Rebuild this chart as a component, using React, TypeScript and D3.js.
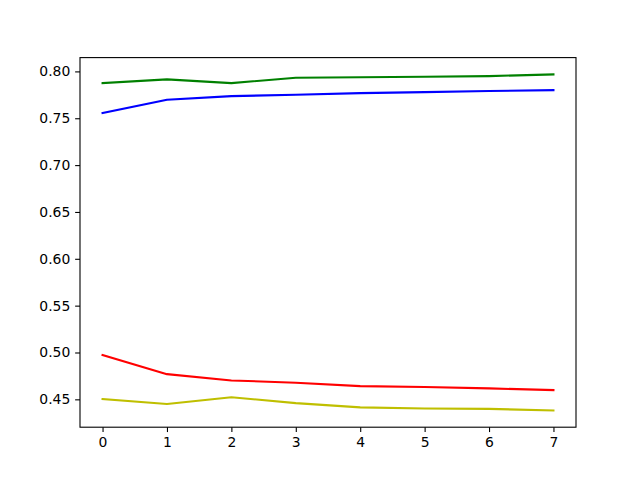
import React, { useRef, useEffect } from "react";
import * as d3 from "d3";

const steps = [0, 1, 2, 3, 4, 5, 6, 7];
const greenSeries = [0.7875, 0.7915, 0.7875, 0.7933, 0.7937, 0.7943, 0.795, 0.7968];
const blueSeries = [0.7555, 0.7698, 0.7736, 0.7751, 0.7768, 0.7779, 0.779, 0.78];
const redSeries = [0.4972, 0.4769, 0.4702, 0.4678, 0.4641, 0.4631, 0.4617, 0.4599];
const yellowSeries = [0.4503, 0.445, 0.4522, 0.446, 0.4414, 0.4402, 0.4398, 0.4382];
const yTicks = [0.45, 0.5, 0.55, 0.6, 0.65, 0.7, 0.75, 0.8];

const series = [
  { values: greenSeries, color: "#008000" },
  { values: blueSeries, color: "#0000ff" },
  { values: redSeries, color: "#ff0000" },
  { values: yellowSeries, color: "#bfbf00" },
];

const App: React.FC = () => {
  const svgRef = useRef<SVGSVGElement | null>(null);

  const width = 640;
  const height = 480;
  const margin = { top: 57.6, right: 64, bottom: 52.8, left: 80 };

  useEffect(() => {
    const svg = d3.select(svgRef.current);
    svg.selectAll("*").remove();

    const all = series.flatMap((s) => s.values);
    const lo = d3.min(all)!;
    const hi = d3.max(all)!;
    const pad = (hi - lo) * 0.05;

    // x: matplotlib style 5% margin
    const x = d3
      .scaleLinear()
      .domain([-0.35, 7.35])
      .range([margin.left, width - margin.right]);
    const y = d3
      .scaleLinear()
      .domain([lo - pad, hi + pad])
      .range([height - margin.bottom, margin.top]);

    svg.append("rect").attr("width", width).attr("height", height).attr("fill", "#fff");

    const line = d3
      .line<number>()
      .x((_, i) => x(steps[i]))
      .y((d) => y(d));

    series.forEach((s) => {
      svg
        .append("path")
        .datum(s.values)
        .attr("fill", "none")
        .attr("stroke", s.color)
        .attr("stroke-width", 2.08)
        .attr("stroke-linejoin", "round")
        .attr("stroke-linecap", "square")
        .attr("d", line);
    });

    const font = "'DejaVu Sans', sans-serif";

    const xAxis = svg
      .append("g")
      .attr("transform", `translate(0,${height - margin.bottom})`)
      .call(d3.axisBottom(x).tickValues(steps).tickFormat(d3.format("d")).tickSize(4.86).tickPadding(4.86));
    const yAxis = svg
      .append("g")
      .attr("transform", `translate(${margin.left},0)`)
      .call(d3.axisLeft(y).tickValues(yTicks).tickFormat(d3.format(".2f")).tickSize(4.86).tickPadding(4.86));

    [xAxis, yAxis].forEach((g) => {
      g.select(".domain").remove();
      g.selectAll("line").attr("stroke", "#000").attr("stroke-width", 1.1);
      g.selectAll("text").attr("fill", "#000").style("font-family", font).style("font-size", "13.9px");
    });

    svg
      .append("rect")
      .attr("x", margin.left)
      .attr("y", margin.top)
      .attr("width", width - margin.left - margin.right)
      .attr("height", height - margin.top - margin.bottom)
      .attr("fill", "none")
      .attr("stroke", "#000")
      .attr("stroke-width", 1.1);
  }, []);

  return (
    <svg
      ref={svgRef}
      width={width}
      height={height}
      style={{ position: "absolute", left: 0, top: 0 }}
    ></svg>
  );
};

export default App;
